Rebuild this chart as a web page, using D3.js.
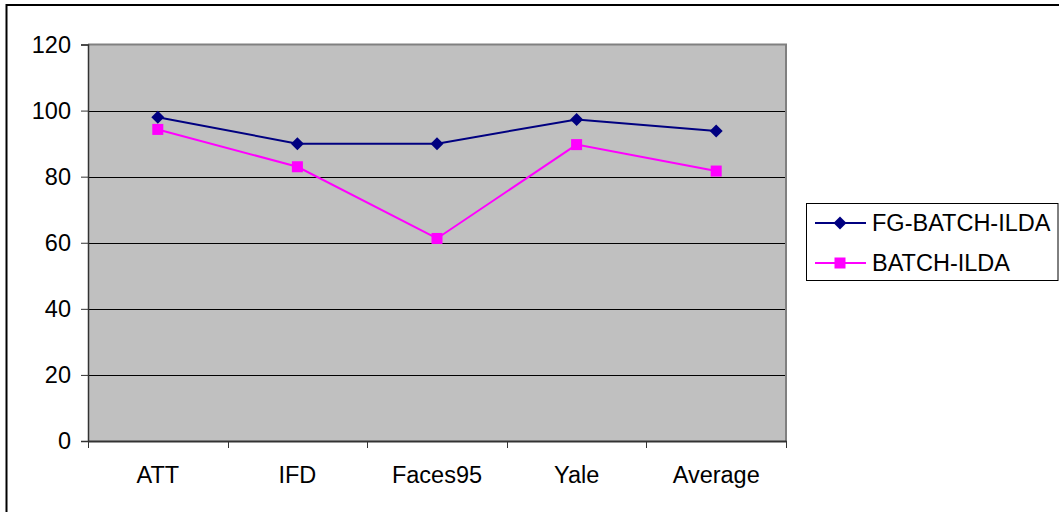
<!DOCTYPE html>
<html><head><meta charset="utf-8">
<script src="https://cdn.jsdelivr.net/npm/d3@7"></script>
<style>
html,body{margin:0;padding:0;background:#fff;}
svg{display:block;}
text{font-family:"Liberation Sans",Arial,sans-serif;fill:#000;}
</style></head>
<body>
<svg id="chart" width="1059" height="512"></svg>
<script>
const categories = ["ATT", "IFD", "Faces95", "Yale", "Average"];
const seriesNames = ["FG-BATCH-ILDA", "BATCH-ILDA"];
const fgBatchIlda = [98, 90, 90, 97.3, 93.8];
const batchIlda = [94.3, 83, 61.3, 89.7, 81.7];
const yTicks = [0, 20, 40, 60, 80, 100, 120];
const seriesColors = ["#000080", "#FF00FF"];

const FS = 23.5;
const svg = d3.select("#chart");
// outer border
svg.append("rect").attr("x", 6.5).attr("y", 5).attr("width", 1070).attr("height", 520)
  .attr("fill", "#fff").attr("stroke", "#000").attr("stroke-width", 2);

const pLeft = 88, pRight = 786, pTop = 44.5, pBottom = 441;
const x = d3.scaleBand().domain(categories).range([pLeft, pRight]);
const y = d3.scaleLinear().domain([0, 120]).range([pBottom, pTop]);

// plot background
svg.append("rect").attr("x", pLeft).attr("y", pTop).attr("width", pRight - pLeft).attr("height", pBottom - pTop)
  .attr("fill", "#C0C0C0");
// gridlines
svg.append("g").selectAll("line").data(yTicks.filter(d => d > 0 && d < 120)).join("line")
  .attr("x1", pLeft).attr("x2", pRight)
  .attr("y1", d => Math.round(y(d)) + 0.5).attr("y2", d => Math.round(y(d)) + 0.5)
  .attr("stroke", "#000").attr("stroke-width", 1);
// top & right border gray
svg.append("path").attr("d", `M${pLeft},${pTop} H${pRight} V${pBottom}`)
  .attr("fill", "none").attr("stroke", "#808080").attr("stroke-width", 2);

// y axis
const yAxis = d3.axisLeft(y).tickValues(yTicks).tickSize(7).tickPadding(10);
const gy = svg.append("g").attr("transform", `translate(${pLeft},0)`).call(yAxis);
gy.select(".domain").attr("stroke", "#333").attr("stroke-width", 1.5);
gy.selectAll(".tick line").attr("stroke", "#333");
gy.selectAll("text").attr("font-size", FS).attr("font-family", "Liberation Sans, Arial, sans-serif").attr("fill", "#000");

// x axis
const xAxis = d3.axisBottom(x).tickSize(0).tickPadding(0);
const gx = svg.append("g").attr("transform", `translate(0,${pBottom})`).call(xAxis);
gx.select(".domain").attr("stroke", "#333").attr("stroke-width", 2);
gx.selectAll(".tick text").attr("font-size", FS).attr("dy", null).attr("y", 42)
  .attr("font-family", "Liberation Sans, Arial, sans-serif").attr("fill", "#000");
// band boundary ticks
const bounds = categories.map(c => x(c)).concat([x(categories[categories.length - 1]) + x.bandwidth()]);
svg.append("g").selectAll("line").data(bounds).join("line")
  .attr("x1", d => Math.round(d) + 0.5).attr("x2", d => Math.round(d) + 0.5)
  .attr("y1", pBottom).attr("y2", pBottom + 7).attr("stroke", "#333");

const cx = c => x(c) + x.bandwidth() / 2;
const line = d3.line().x((d, i) => cx(categories[i])).y(d => y(d));

const allSeries = [fgBatchIlda, batchIlda];
allSeries.forEach((vals, si) => {
  svg.append("path").datum(vals).attr("d", line).attr("fill", "none")
    .attr("stroke", seriesColors[si]).attr("stroke-width", 2);
});
// markers
const diamond = (g, px, py, col) => g.append("path")
  .attr("d", `M${px},${py - 6.5} L${px + 6.5},${py} L${px},${py + 6.5} L${px - 6.5},${py} Z`).attr("fill", col);
const square = (g, px, py, col) => g.append("rect")
  .attr("x", px - 5.5).attr("y", py - 5.5).attr("width", 11).attr("height", 11).attr("fill", col);
const mk = svg.append("g");
fgBatchIlda.forEach((v, i) => diamond(mk, cx(categories[i]), y(v), seriesColors[0]));
batchIlda.forEach((v, i) => square(mk, cx(categories[i]), y(v), seriesColors[1]));

// legend
const lg = svg.append("g");
lg.append("rect").attr("x", 806.5).attr("y", 203.5).attr("width", 251.5).attr("height", 77)
  .attr("fill", "#fff").attr("stroke", "#000").attr("stroke-width", 1);
const rowsY = [223, 263];
seriesNames.forEach((name, i) => {
  lg.append("line").attr("x1", 815).attr("x2", 866).attr("y1", rowsY[i]).attr("y2", rowsY[i])
    .attr("stroke", seriesColors[i]).attr("stroke-width", 2);
  if (i === 0) diamond(lg, 840, rowsY[i], seriesColors[i]); else square(lg, 840, rowsY[i], seriesColors[i]);
  lg.append("text").attr("x", 872).attr("y", rowsY[i]).attr("dy", "0.35em")
    .attr("font-size", FS).text(name);
});
</script>
</body></html>
